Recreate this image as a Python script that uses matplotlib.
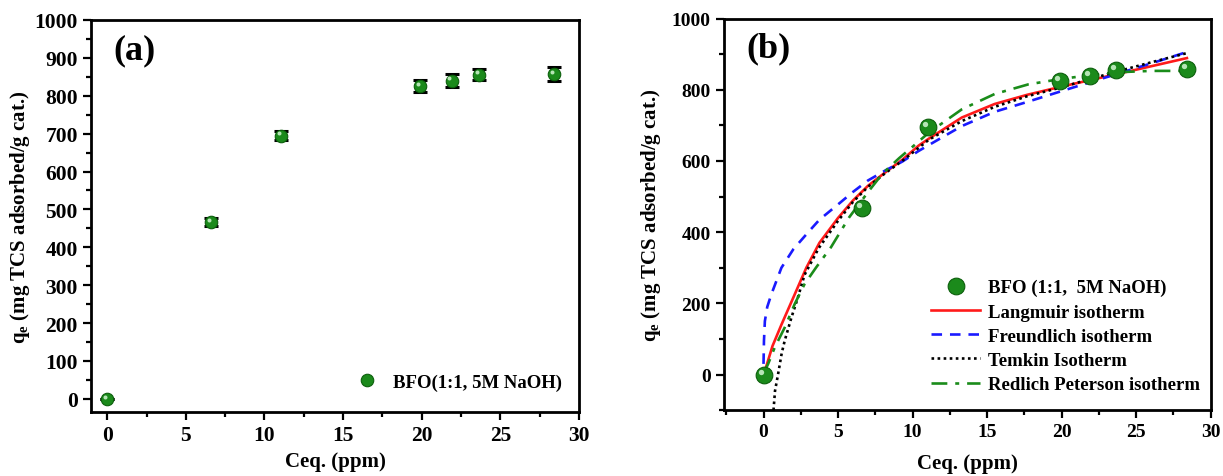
import numpy as np
import matplotlib
matplotlib.use('Agg')
import matplotlib.pyplot as plt
from matplotlib.ticker import MultipleLocator
from matplotlib.transforms import offset_copy

# ── Data ─────────────────────────────────────────────────────────────────────
ceq     = [0.0, 6.6, 11.05, 19.9, 21.9, 23.65, 28.4]
qe      = [0.0, 467, 695, 825, 840, 856, 858]
qe_err  = [0, 10, 12, 16, 17, 14, 18]

lang_c  = [0.05, 0.2, 0.6, 1.2, 2.1, 2.87, 3.75, 5.0, 6.0, 7.0, 8.2, 9.3, 10.4,
           11.1, 13.3, 15.5, 17.7, 19.9, 21.9, 23.6, 26.0, 28.4]
lang_q  = [8, 25, 80, 140, 226, 300, 370, 440, 489, 530, 569, 603, 643,
           663, 722, 760, 786, 808, 827, 843, 866, 889]

freu_c  = [0.0, 0.03, 0.09, 0.25, 0.53, 1.2, 2.0, 3.0, 3.75, 5.0, 6.0, 7.0, 8.2,
           9.3, 10.4, 11.1, 13.3, 15.5, 17.7, 19.9, 21.9, 23.6, 26.0, 28.4]
freu_q  = [30, 95, 150, 190, 226, 300, 352, 400, 435, 478, 513, 545, 574,
           598, 628, 645, 698, 738, 766, 795, 821, 843, 874, 906]

temk_c  = [0.67, 0.77, 0.98, 1.22, 1.42, 1.87, 2.31, 2.75, 3.7, 5.0, 6.0, 7.0,
           8.2, 9.3, 11.1, 13.3, 15.5, 17.7, 19.9, 21.9, 23.6, 26.0, 28.4]
temk_q  = [-100, -46, 2, 60, 95, 160, 217, 280, 355, 432, 485, 527,
           567, 600, 660, 712, 752, 782, 806, 830, 850, 877, 903]

redp_c  = [0.0, 0.3, 0.75, 1.42, 2.09, 2.75, 3.53, 4.53, 5.75, 7.09, 7.97, 9.1,
           10.0, 11.1, 13.3, 15.5, 17.75, 19.9, 21.9, 23.6, 26.0, 28.4]
redp_q  = [3, 29, 76, 132, 198, 254, 301, 358, 442, 517, 564, 608,
           640, 680, 745, 788, 815, 830, 841, 849, 853, 853]

# ── Style ────────────────────────────────────────────────────────────────────
plt.rcParams['font.family'] = ['Liberation Serif', 'DejaVu Serif']
plt.rcParams['font.weight'] = 'bold'
plt.rcParams['mathtext.fontset'] = 'custom'
plt.rcParams['mathtext.rm'] = 'Liberation Serif:bold'
plt.rcParams['mathtext.bf'] = 'Liberation Serif:bold'
plt.rcParams['mathtext.it'] = 'Liberation Serif:bold'

BALL      = '#1b8a1b'
BALL_EDGE = '#0c5f0c'
BALL_HI   = '#c8f0c8'

fig = plt.figure(figsize=(12.23, 4.77), dpi=100, facecolor='white')
ax_a = fig.add_axes([0.0744, 0.134, 0.399, 0.822])
ax_b = fig.add_axes([0.592, 0.138, 0.398, 0.821])

ylab = r'$\mathbf{q_e}$ (mg TCS adsorbed/g cat.)'


def style_axes(a, tick_fs):
    for sp in a.spines.values():
        sp.set_linewidth(2.0)
    a.tick_params(which='both', direction='out', top=False, right=False,
                  labelsize=tick_fs, width=1.6)
    a.tick_params(which='major', length=6)
    a.tick_params(which='minor', length=3.5)
    for lbl in a.get_xticklabels() + a.get_yticklabels():
        lbl.set_fontweight('bold')


def balls(a, ms, label=None):
    main, = a.plot(ceq, qe, 'o', ms=ms, mfc=BALL, mec=BALL_EDGE, mew=0.8,
                   ls='none', zorder=5, label=label)
    hi_tr = offset_copy(a.transData, fig=fig, x=-ms * 0.18, y=ms * 0.18,
                        units='points')
    a.plot(ceq, qe, 'o', ms=ms * 0.32, mfc=BALL_HI, mec='none', ls='none',
           transform=hi_tr, zorder=6, alpha=0.9)
    return main


# ── Panel (a) ────────────────────────────────────────────────────────────────
ax_a.errorbar(ceq, qe, yerr=qe_err, fmt='none', ecolor='black', elinewidth=1.6,
              capsize=5, capthick=2.2, zorder=4)
h_a = balls(ax_a, 9, 'BFO(1:1, 5M NaOH)')
ax_a.set_xlim(-1.03, 30)
ax_a.set_ylim(-35, 1000)
ax_a.xaxis.set_major_locator(MultipleLocator(5))
ax_a.xaxis.set_minor_locator(MultipleLocator(2.5))
ax_a.yaxis.set_major_locator(MultipleLocator(100))
ax_a.yaxis.set_minor_locator(MultipleLocator(50))
ax_a.set_xlabel('Ceq. (ppm)', fontsize=15, fontweight='bold', labelpad=4)
ax_a.set_ylabel(ylab, fontsize=15, fontweight='bold', labelpad=2)
ax_a.text(0.045, 0.925, '(a)', transform=ax_a.transAxes, fontsize=26,
          fontweight='bold', va='center', ha='left')
ax_a.legend(handles=[h_a], loc='lower right', bbox_to_anchor=(1.0, 0.012),
            frameon=False, fontsize=13.5, handlelength=1.0,
            handletextpad=0.9)
style_axes(ax_a, 15.5)

# ── Panel (b) ────────────────────────────────────────────────────────────────
h_b = balls(ax_b, 12, 'BFO (1:1,  5M NaOH)')
l1, = ax_b.plot(lang_c, lang_q, color='#ff1a1a', lw=1.9, ls='-',
                label='Langmuir isotherm', zorder=3)
l2, = ax_b.plot(freu_c, freu_q, color='#1a1aff', lw=1.9, ls=(0, (4, 3)),
                label='Freundlich isotherm', zorder=3)
l3, = ax_b.plot(temk_c, temk_q, color='black', lw=1.9, ls=(0, (1, 1.3)),
                label='Temkin Isotherm', zorder=3)
l4, = ax_b.plot(redp_c, redp_q, color='#1a8c1a', lw=1.9, ls=(0, (6, 3, 1.5, 3)),
                label='Redlich Peterson isotherm', zorder=3)
ax_b.set_xlim(-2.65, 30)
ax_b.set_ylim(-100, 1000)
ax_b.xaxis.set_major_locator(MultipleLocator(5))
ax_b.xaxis.set_minor_locator(MultipleLocator(2.5))
ax_b.yaxis.set_major_locator(MultipleLocator(200))
ax_b.yaxis.set_minor_locator(MultipleLocator(100))
ax_b.set_xlabel('Ceq. (ppm)', fontsize=15, fontweight='bold', labelpad=9)
ax_b.set_ylabel(ylab, fontsize=15, fontweight='bold', labelpad=6)
ax_b.text(0.045, 0.925, '(b)', transform=ax_b.transAxes, fontsize=26,
          fontweight='bold', va='center', ha='left')
ax_b.legend(handles=[h_b, l1, l2, l3, l4], loc='lower right',
            bbox_to_anchor=(1.012, 0.0), frameon=False, fontsize=13.5,
            handlelength=2.6, handletextpad=0.4, labelspacing=0.38)
style_axes(ax_b, 14)

fig.savefig('out.png', dpi=100, facecolor='white')
